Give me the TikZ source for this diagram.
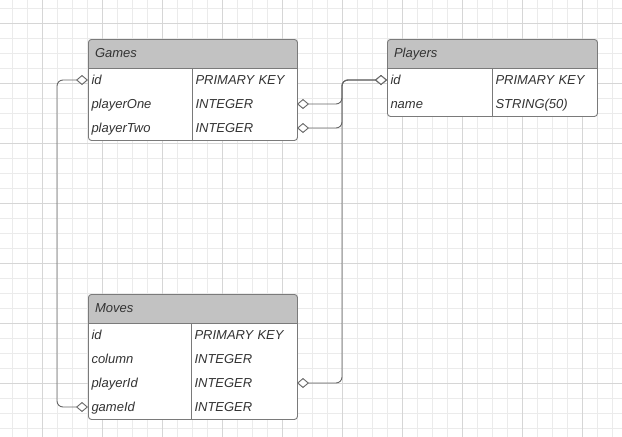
\documentclass[tikz,border=0pt]{standalone}
\usepackage{fontspec}
\setmainfont{Liberation Sans}
\usetikzlibrary{positioning,arrows.meta}
\definecolor{gridminor}{HTML}{EBEBEB}
\definecolor{gridmajor}{HTML}{D6D6D6}
\definecolor{headgray}{HTML}{C2C2C2}
\definecolor{edgegray}{HTML}{7A7A7A}
\definecolor{linkgray}{HTML}{666666}
\definecolor{textgray}{HTML}{333333}
\begin{document}
\begin{tikzpicture}[x=1pt,y=-1pt,line width=0.9pt,font=\fontsize{13}{15}\selectfont\itshape,text=textgray,
  table/.style={draw=edgegray,fill=white,rounded corners=3pt,anchor=north west,minimum width=209pt,inner sep=0pt,
    path picture={\fill[headgray,sharp corners] (path picture bounding box.north west) rectangle ([yshift=-29pt]path picture bounding box.north east);}},
  title/.style={anchor=north west,minimum height=29pt,text width=180pt,inner xsep=7pt,inner ysep=0pt,outer sep=0pt,text height=9.5pt,text depth=2.5pt},
  field/.style={minimum height=24pt,text width=#1,inner xsep=3.5pt,inner ysep=0pt,outer sep=0pt,text height=11pt,text depth=2.5pt},
  link/.style={{Diamond[fill=white,length=12pt,width=10pt]}-{Diamond[fill=white,length=12pt,width=10pt]},draw=linkgray,rounded corners=6pt}]
  \fill[white] (0,0) rectangle (622,437);
  \useasboundingbox (0,0) rectangle (622,437);
  % grid
  \foreach \x in {12.7,27.7,...,612.7} \draw[gridminor,line width=0.8pt] (\x,0) -- (\x,437);
  \foreach \y in {8.3,23.3,...,428.3} \draw[gridminor,line width=0.8pt] (0,\y) -- (622,\y);
  \foreach \x in {42.7,102.7,...,582.7} \draw[gridmajor,line width=0.8pt] (\x,0) -- (\x,437);
  \foreach \y in {23.3,83.3,...,383.3} \draw[gridmajor,line width=0.8pt] (0,\y) -- (622,\y);

  % Games
  \node[table,minimum height=101pt] (games) at (88,39) {};
  \node[title] (games-t) at (games.north west) {Games};
  \node[field=97pt,below right=0pt and 0pt of games-t.south west] (g-id) {id};
  \node[field=97pt,below=0pt of g-id] (g-p1) {playerOne};
  \node[field=97pt,below=0pt of g-p1] (g-p2) {playerTwo};
  \node[field=98pt,right=0pt of g-id] (g-idt) {PRIMARY KEY};
  \node[field=98pt,right=0pt of g-p1] (g-p1t) {INTEGER};
  \node[field=98pt,right=0pt of g-p2] (g-p2t) {INTEGER};
  \draw[edgegray] (g-id.north west) -- (g-idt.north east);
  \draw[edgegray] (g-id.north east) -- (g-p2.south east);

  % Players
  \node[table,minimum width=210pt,minimum height=77pt] (players) at (387,39) {};
  \node[title] (players-t) at (players.north west) {Players};
  \node[field=98pt,below right=0pt and 0pt of players-t.south west] (p-id) {id};
  \node[field=98pt,below=0pt of p-id] (p-name) {name};
  \node[field=98pt,right=0pt of p-id] (p-idt) {PRIMARY KEY};
  \node[field=98pt,right=0pt of p-name] (p-namet) {STRING(50)};
  \draw[edgegray] (p-id.north west) -- (p-idt.north east);
  \draw[edgegray] (p-id.north east) -- (p-name.south east);

  % Moves
  \node[table,minimum height=125pt] (moves) at (88,294) {};
  \node[title] (moves-t) at (moves.north west) {Moves};
  \node[field=96pt,below right=0pt and 0pt of moves-t.south west] (m-id) {id};
  \node[field=96pt,below=0pt of m-id] (m-col) {column};
  \node[field=96pt,below=0pt of m-col] (m-pid) {playerId};
  \node[field=96pt,below=0pt of m-pid] (m-gid) {gameId};
  \node[field=99pt,right=0pt of m-id] (m-idt) {PRIMARY KEY};
  \node[field=99pt,right=0pt of m-col] (m-colt) {INTEGER};
  \node[field=99pt,right=0pt of m-pid] (m-pidt) {INTEGER};
  \node[field=99pt,right=0pt of m-gid] (m-gidt) {INTEGER};
  \draw[edgegray] (m-id.north west) -- (m-idt.north east);
  \draw[edgegray] (m-id.north east) -- (m-gid.south east);

  % links
  \draw[link] (g-id.west) -- ++(-31pt,0) |- (m-gid.west);
  \draw[link] (g-p1t.east) -- ++(45pt,0) |- (p-id.west);
  \draw[link] (g-p2t.east) -- ++(45pt,0) |- (p-id.west);
  \draw[link] (m-pidt.east) -- ++(45pt,0) |- (p-id.west);
\end{tikzpicture}
\end{document}
